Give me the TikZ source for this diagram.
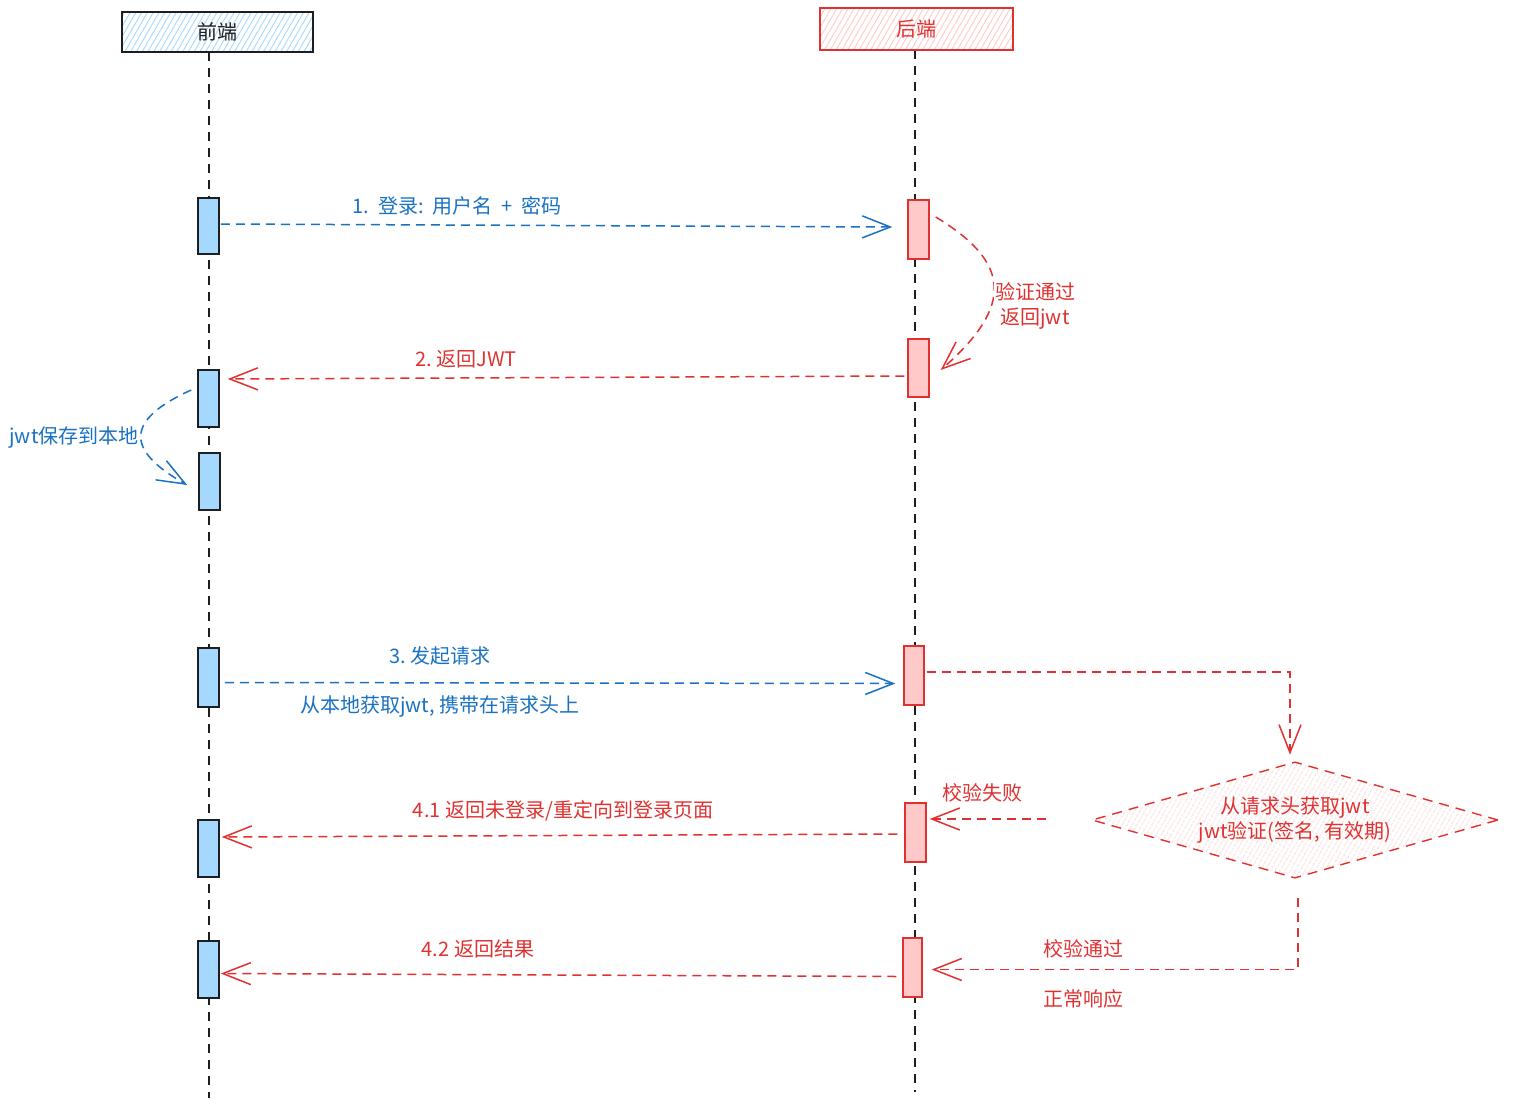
\documentclass[tikz,border=0pt]{standalone}
\usepackage{fontspec}
\setmainfont{Noto Sans CJK SC}
\usetikzlibrary{arrows.meta,calc,patterns.meta,shapes.geometric}
\definecolor{eblue}{HTML}{1971C2}
\definecolor{eblueF}{HTML}{A5D8FF}
\definecolor{ered}{HTML}{E03131}
\definecolor{eredF}{HTML}{FFC9C9}
\definecolor{edark}{HTML}{1E1E1E}
\begin{document}
\begin{tikzpicture}[x=1pt,y=-1pt,
 font=\fontsize{20}{25}\selectfont,
 lifeline/.style={draw=edark,line width=1.4pt,dash pattern=on 9pt off 7pt},
 actf/.style={draw=edark,fill=eblueF,line width=1.6pt,minimum width=21pt,inner sep=0pt},
 actb/.style={draw=ered,fill=eredF,line width=1.4pt,minimum width=21pt,inner sep=0pt},
 msg/.style={line width=1.5pt,dash pattern=on 9pt off 6pt,-{Straight Barb[length=28pt,width=22pt]}},
 bmsg/.style={msg,draw=eblue},
 rmsg/.style={msg,draw=ered},
 blbl/.style={text=eblue,inner sep=2pt},
 rlbl/.style={text=ered,inner sep=2pt},
]
\useasboundingbox (0,0) rectangle (1521,1108);

% lifelines
\coordinate (fEnd) at (209,1098);
\coordinate (bEnd) at (915,1092);
\coordinate (fTop) at (209,52);
\coordinate (bTop) at (915,50);
\draw[lifeline] (fTop) -- (fEnd);
\draw[lifeline] (bTop) -- (bEnd);

% headers
\node[draw=edark,line width=1.6pt,minimum width=191pt,minimum height=40pt,
  pattern={Lines[angle=60,distance=5pt,line width=0.9pt]},pattern color=eblueF,
  text=edark,inner sep=0pt] (front) at (217.5,32) {前端};
\node[draw=ered,line width=1.4pt,minimum width=193pt,minimum height=42pt,
  pattern={Lines[angle=60,distance=5pt,line width=0.9pt]},pattern color=eredF,
  text=ered,inner sep=0pt] (back) at (916.5,29) {后端};

% activation boxes front
\node[actf,minimum height=56pt] (A1) at (208.5,226) {};
\node[actf,minimum height=57pt] (A2) at (208.5,398.5) {};
\node[actf,minimum height=57pt] (A3) at (209.5,481.5) {};
\node[actf,minimum height=59pt] (A4) at (208.5,677.5) {};
\node[actf,minimum height=57pt] (A5) at (208.5,848.5) {};
\node[actf,minimum height=57pt] (A6) at (208.5,969.5) {};

% activation boxes back
\node[actb,minimum height=59pt] (B1) at (918.5,229.5) {};
\node[actb,minimum height=58pt] (B2) at (918.5,368) {};
\node[actb,minimum height=59pt,minimum width=20pt] (B3) at (914,675.5) {};
\node[actb,minimum height=59pt] (B4) at (915.5,832.5) {};
\node[actb,minimum height=59pt,minimum width=19pt] (B5) at (912.5,967.5) {};

% decision diamond
\node[diamond,aspect=3.5,minimum width=406pt,minimum height=116pt,inner sep=0pt,
  draw=ered,line width=1.4pt,dash pattern=on 10pt off 7pt,
  pattern={Lines[angle=60,distance=4pt,line width=0.7pt]},pattern color=ered!30,
  text=ered,align=center] (dia) at (1295,820) {从请求头获取jwt\\jwt验证(签名, 有效期)};

% 1
\draw[bmsg] ($(A1.east)+(1,-2)$) -- ($(B1.west)+(-15,-2.5)$);
\node[blbl] (l1) at (457,206) {1.\ \ 登录:\ \ 用户名\ \ +\ \ 密码};
% verify
\draw[rmsg] ($(B1.east)+(6,-12.5)$) .. controls (1010,262) and (1015,305) .. ($(B2.east)+(11,2)$);
\node[rlbl,fill=white,align=center,inner sep=1pt] (lv) at (1035,306) {验证通过\\返回jwt};
% 2
\draw[rmsg] ($(B2.west)+(-3,8)$) -- ($(A2.east)+(8,-19.5)$);
\node[rlbl] (l2) at (466,359) {2.\ 返回JWT};
% save
\draw[bmsg] ($(A2.west)+(-6,-8.5)$) .. controls (125,420) and (125,450) .. ($(A3.west)+(-11,3.5)$);
\node[blbl,fill=white,inner sep=1pt] (ls) at (74,438) {jwt保存到本地};
% 3
\draw[bmsg] ($(A4.east)+(5,5)$) -- ($(B3.west)+(-8,8)$);
\node[blbl] (l3a) at (440,656) {3.\ 发起请求};
\node[blbl] (l3b) at (440,706) {从本地获取jwt, 携带在请求头上};
% to diamond
\draw[rmsg] ($(B3.east)+(2,-3.5)$) -| ($(dia.north)+(-5,-7)$);
% fail
\draw[rmsg] ($(dia.west)+(-46,-1)$) -- ($(B4.east)+(3,-13.5)$);
\node[rlbl] (lf) at (982,793) {校验失败};
% 4.1
\draw[rmsg] ($(B4.west)+(-7,1.5)$) -- ($(A5.east)+(2,-11.5)$);
\node[rlbl] (l41) at (563,811) {4.1 返回未登录/重定向到登录页面};
% pass
\draw[rmsg] ($(dia.south)+(3,20)$) |- ($(B5.east)+(9,2)$);
\node[rlbl] (lp1) at (1083,949) {校验通过};
\node[rlbl] (lp2) at (1083,999) {正常响应};
% 4.2
\draw[rmsg] ($(B5.west)+(-6,9)$) -- ($(A6.east)+(1,4)$);
\node[rlbl] (l42) at (478,949) {4.2\ 返回结果};
\end{tikzpicture}
\end{document}
